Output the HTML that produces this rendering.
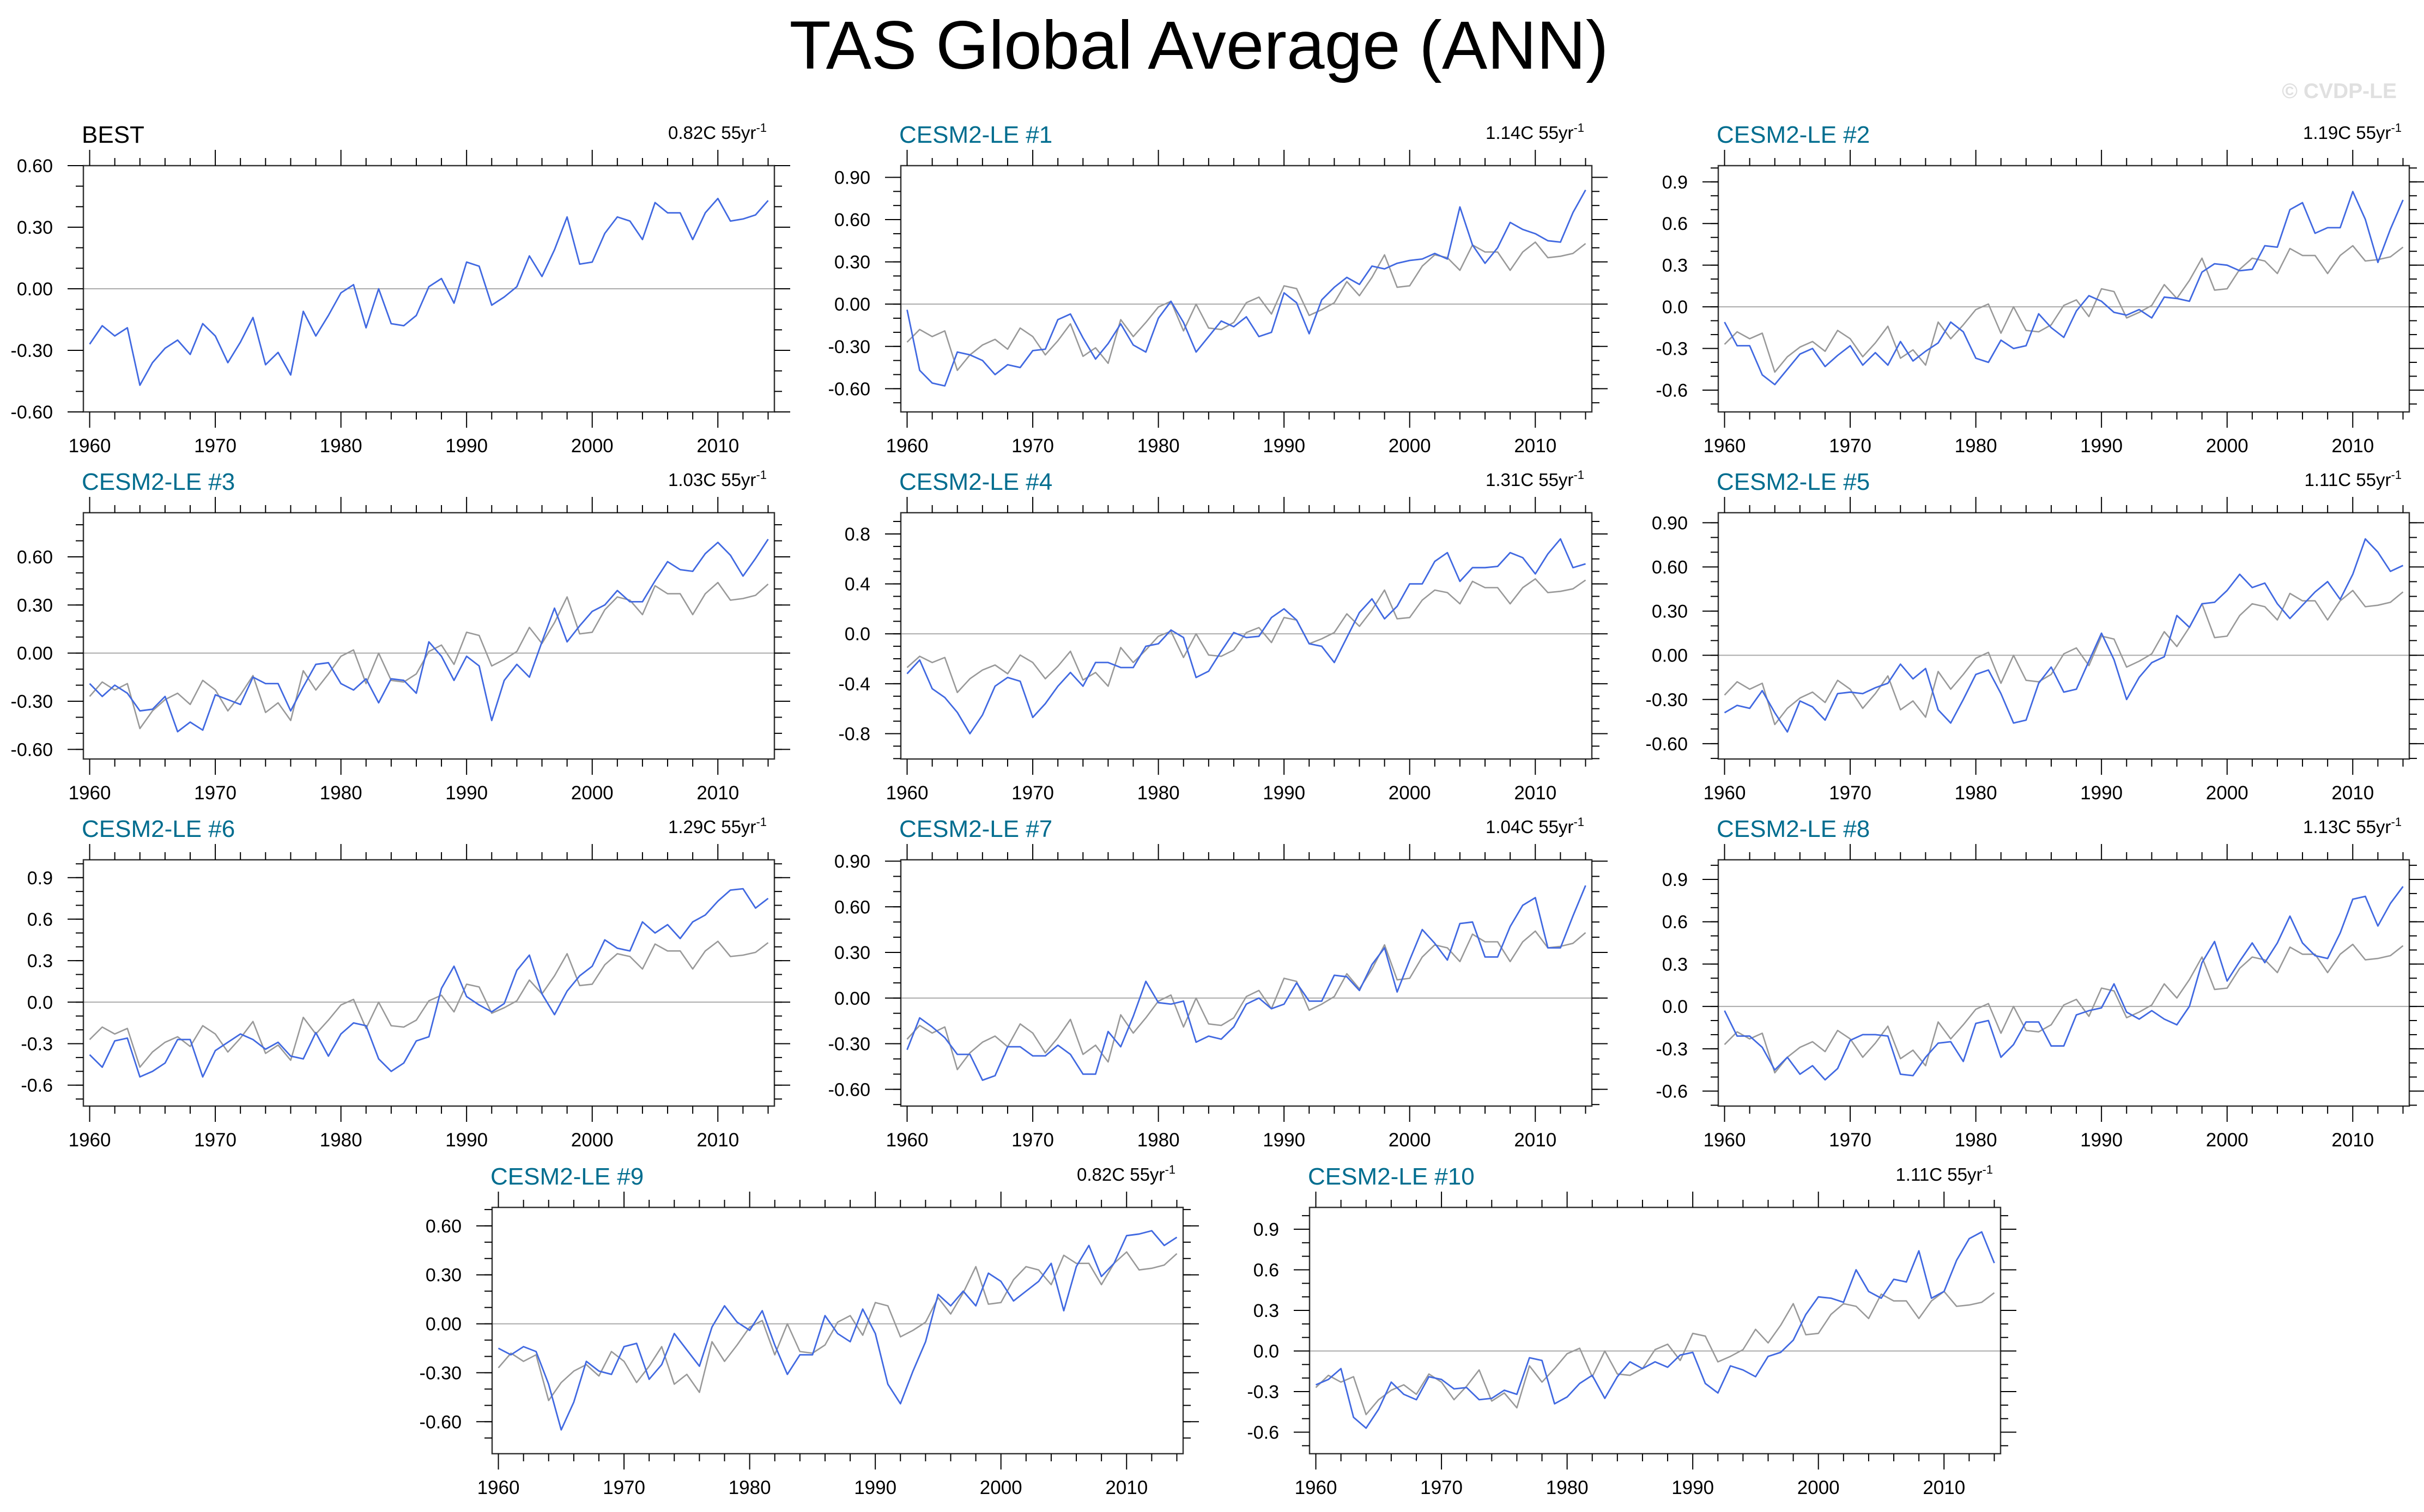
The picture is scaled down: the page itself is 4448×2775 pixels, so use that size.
<!DOCTYPE html>
<html>
<head>
<meta charset="utf-8">
<style>
html,body{margin:0;padding:0;background:#fff;}
svg{display:block;}
text{font-family:"Liberation Sans",Arial,sans-serif;}
</style>
</head>
<body>
<svg id="chart" width="4448" height="2775" viewBox="0 0 4448 2775" xmlns="http://www.w3.org/2000/svg">
  <rect x="0" y="0" width="4448" height="2775" fill="#fff"/>
  <text x="2200" y="126" font-size="125" text-anchor="middle" fill="#000">TAS Global Average (ANN)</text>
  <text x="4398" y="180" font-size="39" font-weight="bold" text-anchor="end" fill="#e0e0e0">© CVDP-LE</text>
  <g id="panels"></g>
</svg>
<script>
// ---- data ----
const years = [];
for (let y = 1960; y <= 2014; y++) years.push(y);
const xTickYears = [1960, 1970, 1980, 1990, 2000, 2010];

const best = [-0.27,-0.18,-0.23,-0.19,-0.47,-0.36,-0.29,-0.25,-0.32,-0.17,-0.23,-0.36,-0.26,-0.14,-0.37,-0.31,-0.42,-0.11,-0.23,-0.13,-0.02,0.02,-0.19,0.00,-0.17,-0.18,-0.13,0.01,0.05,-0.07,0.13,0.11,-0.08,-0.04,0.01,0.16,0.06,0.19,0.35,0.12,0.13,0.27,0.35,0.33,0.24,0.42,0.37,0.37,0.24,0.37,0.44,0.33,0.34,0.36,0.43];
const m1 = [-0.04,-0.47,-0.56,-0.58,-0.34,-0.36,-0.40,-0.50,-0.43,-0.45,-0.33,-0.32,-0.11,-0.07,-0.24,-0.39,-0.28,-0.14,-0.29,-0.34,-0.10,0.02,-0.13,-0.34,-0.23,-0.12,-0.16,-0.09,-0.23,-0.20,0.08,0.01,-0.21,0.03,0.12,0.19,0.14,0.27,0.25,0.29,0.31,0.32,0.36,0.32,0.69,0.42,0.29,0.40,0.58,0.53,0.50,0.45,0.44,0.65,0.81];
const m2 = [-0.11,-0.28,-0.28,-0.49,-0.56,-0.45,-0.34,-0.30,-0.43,-0.35,-0.28,-0.42,-0.33,-0.42,-0.25,-0.39,-0.32,-0.26,-0.11,-0.18,-0.37,-0.40,-0.24,-0.30,-0.28,-0.05,-0.15,-0.22,-0.03,0.08,0.04,-0.04,-0.06,-0.02,-0.08,0.07,0.06,0.04,0.25,0.31,0.30,0.26,0.27,0.44,0.43,0.70,0.75,0.53,0.57,0.57,0.83,0.63,0.32,0.56,0.77];
const m3 = [-0.19,-0.27,-0.20,-0.25,-0.36,-0.35,-0.27,-0.49,-0.43,-0.48,-0.26,-0.29,-0.32,-0.15,-0.19,-0.19,-0.36,-0.21,-0.07,-0.06,-0.19,-0.23,-0.16,-0.31,-0.16,-0.17,-0.25,0.07,-0.02,-0.17,-0.02,-0.08,-0.42,-0.17,-0.07,-0.15,0.07,0.28,0.07,0.17,0.26,0.30,0.39,0.32,0.32,0.45,0.57,0.52,0.51,0.62,0.69,0.61,0.48,0.59,0.71];
const m4 = [-0.32,-0.21,-0.44,-0.51,-0.63,-0.80,-0.65,-0.42,-0.35,-0.38,-0.67,-0.56,-0.42,-0.31,-0.42,-0.23,-0.23,-0.27,-0.27,-0.10,-0.08,0.03,-0.03,-0.35,-0.30,-0.14,0.01,-0.03,-0.02,0.13,0.20,0.11,-0.08,-0.10,-0.23,-0.03,0.17,0.28,0.12,0.22,0.40,0.40,0.58,0.65,0.42,0.53,0.53,0.54,0.65,0.61,0.48,0.64,0.76,0.53,0.56];
const m5 = [-0.39,-0.34,-0.36,-0.24,-0.39,-0.52,-0.31,-0.35,-0.44,-0.26,-0.25,-0.26,-0.22,-0.19,-0.06,-0.16,-0.09,-0.37,-0.46,-0.30,-0.13,-0.10,-0.26,-0.46,-0.44,-0.19,-0.08,-0.25,-0.23,-0.04,0.15,-0.03,-0.30,-0.15,-0.05,-0.01,0.27,0.19,0.35,0.36,0.44,0.55,0.46,0.49,0.35,0.25,0.34,0.43,0.50,0.38,0.55,0.79,0.70,0.57,0.61];
const m6 = [-0.38,-0.47,-0.28,-0.26,-0.54,-0.50,-0.44,-0.27,-0.27,-0.54,-0.35,-0.29,-0.23,-0.27,-0.34,-0.29,-0.39,-0.41,-0.22,-0.39,-0.23,-0.15,-0.17,-0.41,-0.50,-0.44,-0.28,-0.25,0.10,0.26,0.04,-0.02,-0.07,-0.01,0.23,0.34,0.06,-0.09,0.08,0.19,0.26,0.45,0.39,0.37,0.58,0.50,0.56,0.46,0.58,0.63,0.73,0.81,0.82,0.68,0.75];
const m7 = [-0.34,-0.13,-0.19,-0.26,-0.37,-0.37,-0.54,-0.51,-0.32,-0.32,-0.38,-0.38,-0.31,-0.37,-0.50,-0.50,-0.22,-0.32,-0.12,0.11,-0.03,-0.04,-0.02,-0.29,-0.25,-0.27,-0.19,-0.04,0.00,-0.07,-0.04,0.10,-0.02,-0.02,0.15,0.14,0.05,0.22,0.33,0.04,0.25,0.45,0.36,0.25,0.49,0.50,0.27,0.27,0.47,0.61,0.66,0.33,0.33,0.54,0.74];
const m8 = [-0.03,-0.21,-0.21,-0.29,-0.45,-0.36,-0.48,-0.42,-0.52,-0.44,-0.24,-0.20,-0.20,-0.21,-0.48,-0.49,-0.36,-0.26,-0.25,-0.39,-0.12,-0.10,-0.36,-0.27,-0.11,-0.11,-0.28,-0.28,-0.06,-0.03,-0.01,0.16,-0.04,-0.09,-0.03,-0.09,-0.13,0.00,0.31,0.46,0.18,0.32,0.45,0.31,0.45,0.64,0.45,0.36,0.34,0.52,0.76,0.78,0.57,0.73,0.85];
const m9 = [-0.15,-0.19,-0.14,-0.17,-0.37,-0.65,-0.48,-0.23,-0.29,-0.31,-0.14,-0.12,-0.34,-0.25,-0.06,-0.16,-0.26,-0.02,0.11,0.01,-0.04,0.08,-0.13,-0.31,-0.19,-0.19,0.05,-0.06,-0.11,0.09,-0.06,-0.37,-0.49,-0.29,-0.11,0.18,0.11,0.20,0.11,0.31,0.26,0.14,0.20,0.26,0.37,0.08,0.35,0.48,0.29,0.37,0.54,0.55,0.57,0.48,0.53];
const m10 = [-0.25,-0.21,-0.13,-0.49,-0.57,-0.43,-0.23,-0.32,-0.36,-0.19,-0.21,-0.28,-0.27,-0.36,-0.35,-0.29,-0.32,-0.05,-0.07,-0.39,-0.34,-0.24,-0.18,-0.35,-0.19,-0.08,-0.13,-0.08,-0.12,-0.03,-0.01,-0.24,-0.31,-0.11,-0.14,-0.19,-0.04,-0.01,0.08,0.27,0.40,0.39,0.36,0.60,0.44,0.39,0.53,0.51,0.74,0.39,0.44,0.67,0.83,0.88,0.65];

const panelTitles = ["BEST","CESM2-LE #1","CESM2-LE #2","CESM2-LE #3","CESM2-LE #4","CESM2-LE #5","CESM2-LE #6","CESM2-LE #7","CESM2-LE #8","CESM2-LE #9","CESM2-LE #10"];
const trendLabels = ["0.82C 55yr","1.14C 55yr","1.19C 55yr","1.03C 55yr","1.31C 55yr","1.11C 55yr","1.29C 55yr","1.04C 55yr","1.13C 55yr","0.82C 55yr","1.11C 55yr"];
const seriesList = [best, m1, m2, m3, m4, m5, m6, m7, m8, m9, m10];
const yMins = [-0.6,-0.765,-0.757,-0.66,-1.003,-0.704,-0.751,-0.710,-0.706,-0.796,-0.759];
const yMaxs = [0.6,0.983,1.017,0.875,0.970,0.968,1.029,0.909,1.039,0.713,1.061];
const yMajorTicks = [
  [-0.6,-0.3,0,0.3,0.6],
  [-0.6,-0.3,0,0.3,0.6,0.9],
  [-0.6,-0.3,0,0.3,0.6,0.9],
  [-0.6,-0.3,0,0.3,0.6],
  [-0.8,-0.4,0,0.4,0.8],
  [-0.6,-0.3,0,0.3,0.6,0.9],
  [-0.6,-0.3,0,0.3,0.6,0.9],
  [-0.6,-0.3,0,0.3,0.6,0.9],
  [-0.6,-0.3,0,0.3,0.6,0.9],
  [-0.6,-0.3,0,0.3,0.6],
  [-0.6,-0.3,0,0.3,0.6,0.9]
];
const yDecimals = [2,2,1,2,1,2,1,2,1,2,1];

// ---- layout ----
const BOX_W = 1268, BOX_H = 452;
const boxLefts = [153,1653,3153,153,1653,3153,153,1653,3153,903,2403];
const boxTops = [304,304,304,941,941,941,1578,1578,1578,2216,2216];

const NS = "http://www.w3.org/2000/svg";
const root = document.getElementById("panels");
function mk(tag, attrs, parent) {
  const e = document.createElementNS(NS, tag);
  for (const k in attrs) e.setAttribute(k, attrs[k]);
  parent.appendChild(e);
  return e;
}

for (let p = 0; p < seriesList.length; p++) {
  const L = boxLefts[p], T = boxTops[p], R = L + BOX_W, B = T + BOX_H;
  const ymin = yMins[p], ymax = yMaxs[p];
  const xs = yr => L + (yr - 1959.5) * BOX_W / 55;
  const ys = v => B - (v - ymin) / (ymax - ymin) * BOX_H;

  const g = mk("g", {}, root);
  
  

  const t = mk("text", {x: L - 3, y: T - 42, "font-size": 44, fill: p === 0 ? "#000" : "#006d8f"}, g);
  t.textContent = panelTitles[p];
  
  
  const tr = mk("text", {x: R - 14, y: T - 49, "font-size": 33, "text-anchor": "end", fill: "#000"}, g);
  
  
  const ts1 = mk("tspan", {}, tr);
  ts1.textContent = trendLabels[p];
  const ts2 = mk("tspan", {dy: -13, "font-size": 22}, tr);
  ts2.textContent = "-1";

  const zl = mk("line", {x1: L, x2: R, y1: ys(0), y2: ys(0), stroke: "#aaa", "stroke-width": 2}, g);
  
  

  const toPts = arr => arr.map((v, i) => xs(years[i]).toFixed(1) + "," + ys(v).toFixed(1)).join(" ");
  if (p > 0) {
    const gl = mk("polyline", {points: toPts(best), fill: "none", stroke: "#999", "stroke-width": 2.6, "stroke-linejoin": "round"}, g);
    
    
  }
  const bl = mk("polyline", {points: toPts(seriesList[p]), fill: "none", stroke: "#4169e1", "stroke-width": 2.8, "stroke-linejoin": "round"}, g);
  
  

  const bx = mk("rect", {x: L, y: T, width: BOX_W, height: BOX_H, fill: "none", stroke: "#333", "stroke-width": 2.5}, g);
  
  

  for (let yr = 1960; yr <= 2014; yr += 2) {
    const major = (yr % 10 === 0);
    const len = major ? 29 : 14;
    const x = xs(yr);
    mk("line", {x1: x, x2: x, y1: T, y2: T - len, stroke: "#000", "stroke-width": 2}, g);
    mk("line", {x1: x, x2: x, y1: B, y2: B + len, stroke: "#000", "stroke-width": 2}, g);
  }
  xTickYears.forEach(yr => {
    const lb = mk("text", {x: xs(yr), y: B + 74, "font-size": 35, "text-anchor": "middle", fill: "#000"}, g);
    lb.textContent = String(yr);
    
    
  });

  for (let k = Math.ceil(ymin * 10 - 1e-6); k <= Math.floor(ymax * 10 + 1e-6); k++) {
    const y = ys(k / 10);
    mk("line", {x1: L, x2: L - 14, y1: y, y2: y, stroke: "#000", "stroke-width": 2}, g);
    mk("line", {x1: R, x2: R + 14, y1: y, y2: y, stroke: "#000", "stroke-width": 2}, g);
  }
  yMajorTicks[p].forEach(v => {
    const y = ys(v);
    mk("line", {x1: L, x2: L - 29, y1: y, y2: y, stroke: "#000", "stroke-width": 2}, g);
    mk("line", {x1: R, x2: R + 29, y1: y, y2: y, stroke: "#000", "stroke-width": 2}, g);
    const lb = mk("text", {x: L - 56, y: y + 12, "font-size": 34, "text-anchor": "end", fill: "#000"}, g);
    lb.textContent = v.toFixed(yDecimals[p]);
    
    
  });
}
</script>
</body>
</html>
